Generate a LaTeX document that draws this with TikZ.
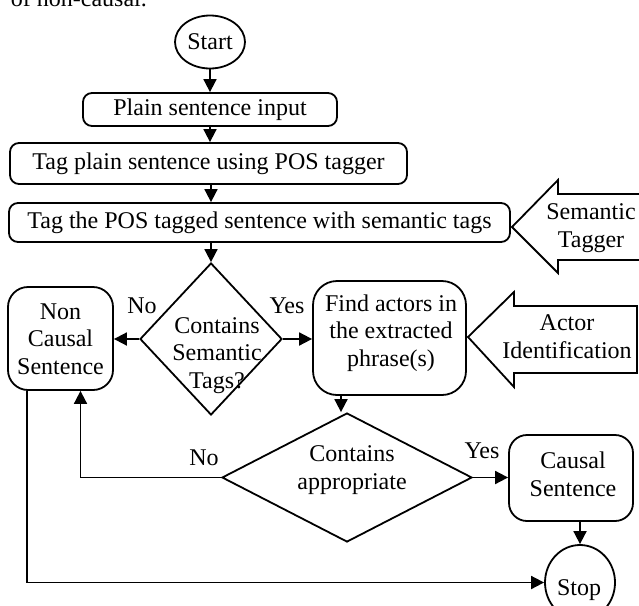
\documentclass[tikz,border=0pt]{standalone}
\usepackage{fontspec}
\setmainfont{Liberation Serif}
\usetikzlibrary{shapes.geometric,arrows.meta}
\begin{document}
\begin{tikzpicture}[x=1pt,y=-1pt,line width=1.8pt,
  every node/.style={font=\fontsize{24}{27.5}\selectfont,inner sep=0pt},
  box/.style={draw,rectangle,rounded corners=#1},
  box/.default=9pt,
  dia/.style={draw,diamond},
  ell/.style={draw,ellipse},
  txt/.style={align=center,anchor=base},
  arr/.style={-{Triangle[length=13pt,width=13pt]}},
  blk/.style={draw,line join=miter}]
\useasboundingbox (0,0) rectangle (639,605);

% cut-off text of the surrounding page
\node[anchor=base west] (prev) at (10,6.5) {of non-causal.};

% nodes (multi-line texts are placed by the baseline of their last line)
\node[ell,minimum width=70pt,minimum height=53pt] (start) at (210,42) {Start};
\node[box,minimum width=254pt,minimum height=33pt] (plain) at (210,109.5) {Plain sentence input};
\node[box,minimum width=397pt,minimum height=41pt] (tagplain) at (208.5,163.5) {Tag plain sentence using POS tagger};
\node[box,minimum width=501pt,minimum height=39pt] (tagthe) at (259.5,222.5) {Tag the POS tagged sentence with semantic tags};

\node[dia,minimum width=142pt,minimum height=152pt] (d1) at (211,339) {};
\node[txt] (d1t) at (217,388) {Contains\\Semantic\\Tags?};

\node[box=20pt,minimum width=105pt,minimum height=103pt] (nc) at (60.5,338.5) {};
\node[txt] (nct) at (60.5,374) {Non\\Causal\\Sentence};

\node[box=24pt,minimum width=153pt,minimum height=114pt] (fa) at (389.5,338) {};
\node[txt] (fat) at (391,366) {Find actors in\\the extracted\\phrase(s)};

\node[dia,minimum width=250pt,minimum height=129pt] (d2) at (347,477.5) {};
\node[txt] (d2t) at (352,489) {Contains\\appropriate};

\node[box=18pt,minimum width=124pt,minimum height=86pt] (cs) at (571,478) {};
\node[txt] (cst) at (573,496) {Causal\\Sentence};

\node[ell,minimum width=70pt,minimum height=75pt] (stop) at (580,582.5) {};
\node[txt] (stopt) at (579,595) {Stop};

% block arrows
\draw[blk] (512,227) -- (558,180) -- (558,194) -- (650,194) -- (650,260) -- (558,260) -- (558,273) -- cycle;
\node[txt] (semt) at (591,247) {Semantic\\Tagger};
\draw[blk] (468,337) -- (514,292) -- (514,306) -- (637,306) -- (637,373) -- (514,373) -- (514,387) -- cycle;
\node[txt] (actt) at (567,358) {Actor\\Identification};

% connectors
\draw[arr] (start.south) -- (plain.north);
\draw[arr] (plain.south) -- (plain.south |- tagplain.north);
\draw[arr] (d1.north |- tagplain.south) -- (d1.north |- tagthe.north);
\draw[arr] (d1.north |- tagthe.south) -- (d1.north);
\draw[arr] (d1.west) -- (d1.west -| nc.east);
\draw[arr] (d1.east) -- (d1.east -| fa.west);
\draw[arr] ([xshift=-6pt]d2.north |- fa.south) -- ([xshift=-6pt]d2.north);
\draw[arr] (d2.west) -| ([xshift=20pt]nc.south);
\draw[arr] (d2.east) -- (d2.east -| cs.west);
\draw[arr] (stop.north |- cs.south) -- (stop.north);
\draw[arr] ([xshift=-33.5pt]nc.south) |- (stop.west);

% labels
\node[txt] (no1) at (142,313) {No};
\node[txt] (yes1) at (287,313) {Yes};
\node[txt] (no2) at (204,465) {No};
\node[txt] (yes2) at (482,458) {Yes};
\end{tikzpicture}
\end{document}
